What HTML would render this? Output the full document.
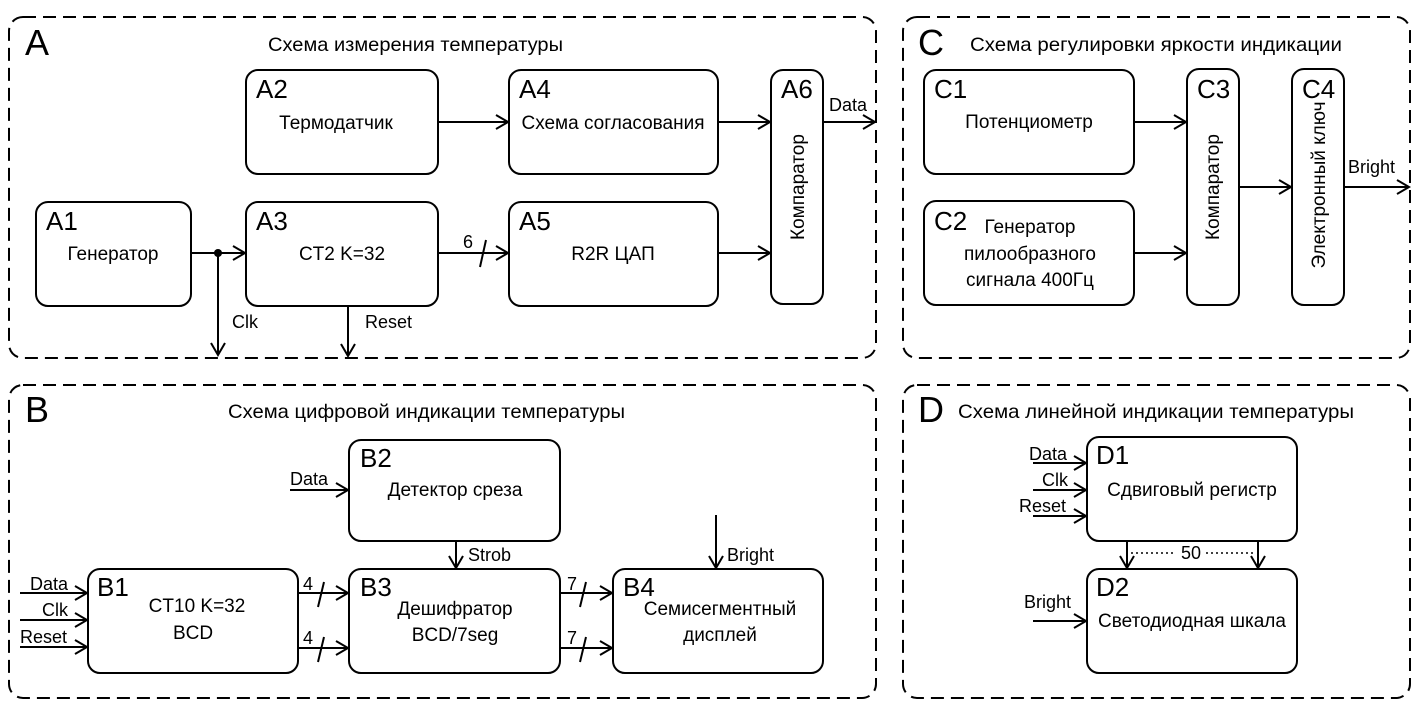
<!DOCTYPE html>
<html><head><meta charset="utf-8"><style>
html,body{margin:0;padding:0;background:#fff}
svg{display:block}
text{font-family:"Liberation Sans","DejaVu Sans",sans-serif;fill:#000}
.t{font-size:19px}
.ti{font-size:19.5px}
.lbl{font-size:26px}
.big{font-size:36px}
.n{font-size:18px}
</style></head><body>
<svg width="1416" height="702" viewBox="0 0 1416 702" xmlns="http://www.w3.org/2000/svg">
<defs>
<marker id="ar" markerWidth="16" markerHeight="16" refX="13" refY="8" orient="auto" markerUnits="userSpaceOnUse">
<polyline points="1,1 13,8 1,15" fill="none" stroke="#000" stroke-width="2"/>
</marker>
</defs>
<g fill="none" stroke="#000" stroke-width="2" stroke-dasharray="13 7">
<rect x="9" y="17" width="867" height="341" rx="14"/>
<rect x="903" y="17" width="507" height="341" rx="14"/>
<rect x="9" y="385" width="867" height="313" rx="14"/>
<rect x="903" y="385" width="507" height="313" rx="14"/>
</g>
<g fill="#fff" stroke="#000" stroke-width="2">
<rect x="246" y="70" width="192" height="104" rx="12"/>
<rect x="509" y="70" width="209" height="104" rx="12"/>
<rect x="36" y="202" width="155" height="104" rx="12"/>
<rect x="246" y="202" width="192" height="104" rx="12"/>
<rect x="509" y="202" width="209" height="104" rx="12"/>
<rect x="771" y="70" width="52" height="234" rx="12"/>
<rect x="924" y="70" width="210" height="104" rx="12"/>
<rect x="924" y="201" width="210" height="104" rx="12"/>
<rect x="1187" y="69" width="52" height="236" rx="12"/>
<rect x="1292" y="69" width="52" height="236" rx="12"/>
<rect x="349" y="440" width="211" height="101" rx="12"/>
<rect x="88" y="569" width="210" height="104" rx="12"/>
<rect x="349" y="569" width="211" height="104" rx="12"/>
<rect x="613" y="569" width="210" height="104" rx="12"/>
<rect x="1087" y="437" width="210" height="104" rx="12"/>
<rect x="1087" y="569" width="210" height="104" rx="12"/>
</g>
<g stroke="#000" stroke-width="2" fill="none" marker-end="url(#ar)">
<line x1="438" y1="122" x2="508" y2="122"/>
<line x1="718" y1="122" x2="770" y2="122"/>
<line x1="823" y1="122" x2="875" y2="122"/>
<line x1="191" y1="253" x2="245" y2="253"/>
<line x1="438" y1="253" x2="508" y2="253"/>
<line x1="718" y1="253" x2="770" y2="253"/>
<line x1="218" y1="253" x2="218" y2="355"/>
<line x1="348" y1="306" x2="348" y2="356"/>
<line x1="1134" y1="122" x2="1186" y2="122"/>
<line x1="1134" y1="253" x2="1186" y2="253"/>
<line x1="1239" y1="187" x2="1291" y2="187"/>
<line x1="1344" y1="187" x2="1409" y2="187"/>
<line x1="290" y1="490" x2="348" y2="490"/>
<line x1="456" y1="541" x2="456" y2="568"/>
<line x1="716" y1="515" x2="716" y2="568"/>
<line x1="20" y1="593" x2="87" y2="593"/>
<line x1="20" y1="620" x2="87" y2="620"/>
<line x1="20" y1="647" x2="87" y2="647"/>
<line x1="298" y1="593" x2="348" y2="593"/>
<line x1="298" y1="648" x2="348" y2="648"/>
<line x1="560" y1="593" x2="612" y2="593"/>
<line x1="560" y1="648" x2="612" y2="648"/>
<line x1="1033" y1="463" x2="1086" y2="463"/>
<line x1="1033" y1="490" x2="1086" y2="490"/>
<line x1="1033" y1="516" x2="1086" y2="516"/>
<line x1="1127" y1="541" x2="1127" y2="568"/>
<line x1="1258" y1="541" x2="1258" y2="568"/>
<line x1="1033" y1="621" x2="1086" y2="621"/>
</g>
<circle cx="218" cy="253" r="4" fill="#000"/>
<g stroke="#000" stroke-width="2">
<line x1="480" y1="267" x2="486" y2="240"/>
<line x1="318" y1="607" x2="324" y2="582"/>
<line x1="318" y1="662" x2="324" y2="637"/>
<line x1="580" y1="607" x2="586" y2="582"/>
<line x1="580" y1="662" x2="586" y2="637"/>
</g>
<line x1="1131" y1="553" x2="1254" y2="553" stroke="#000" stroke-width="1.5" stroke-dasharray="2 3"/>
<rect x="1176" y="543" width="30" height="20" fill="#fff"/>
<text class="big" x="25" y="55">A</text>
<text class="big" x="918" y="55">C</text>
<text class="big" x="25" y="422">B</text>
<text class="big" x="918" y="422">D</text>
<text class="ti" x="268" y="51" textLength="295" lengthAdjust="spacingAndGlyphs">Схема измерения температуры</text>
<text class="ti" x="970" y="51" textLength="372" lengthAdjust="spacingAndGlyphs">Схема регулировки яркости индикации</text>
<text class="ti" x="228" y="418" textLength="397" lengthAdjust="spacingAndGlyphs">Схема цифровой индикации температуры</text>
<text class="ti" x="958" y="418" textLength="396" lengthAdjust="spacingAndGlyphs">Схема линейной индикации температуры</text>
<g>
<text class="lbl" x="256" y="98">A2</text>
<text class="lbl" x="519" y="98">A4</text>
<text class="lbl" x="46" y="230">A1</text>
<text class="lbl" x="256" y="230">A3</text>
<text class="lbl" x="519" y="230">A5</text>
<text class="lbl" x="781" y="98">A6</text>
<text class="lbl" x="934" y="98">C1</text>
<text class="lbl" x="934" y="230">C2</text>
<text class="lbl" x="1197" y="98">C3</text>
<text class="lbl" x="1302" y="98">C4</text>
<text class="lbl" x="360" y="467">B2</text>
<text class="lbl" x="97" y="596">B1</text>
<text class="lbl" x="360" y="596">B3</text>
<text class="lbl" x="623" y="596">B4</text>
<text class="lbl" x="1096" y="464">D1</text>
<text class="lbl" x="1096" y="596">D2</text>
</g>
<g class="t" text-anchor="middle">
<text x="336" y="129">Термодатчик</text>
<text x="613" y="129">Схема согласования</text>
<text x="113" y="260">Генератор</text>
<text x="342" y="260">CT2 K=32</text>
<text x="613" y="260">R2R ЦАП</text>
<text x="1029" y="128">Потенциометр</text>
<text x="1030" y="233">Генератор</text>
<text x="1030" y="260">пилообразного</text>
<text x="1030" y="286">сигнала 400Гц</text>
<text x="455" y="496">Детектор среза</text>
<text x="197" y="612">CT10 K=32</text>
<text x="193" y="639">BCD</text>
<text x="455" y="615">Дешифратор</text>
<text x="455" y="641">BCD/7seg</text>
<text x="720" y="615">Семисегментный</text>
<text x="720" y="641">дисплей</text>
<text x="1192" y="496">Сдвиговый регистр</text>
<text x="1192" y="627">Светодиодная шкала</text>
<text transform="translate(804,187) rotate(-90)">Компаратор</text>
<text transform="translate(1219,187) rotate(-90)">Компаратор</text>
<text transform="translate(1325,185) rotate(-90)">Электронный ключ</text>
</g>
<g class="n">
<text x="829" y="111">Data</text>
<text x="232" y="328">Clk</text>
<text x="365" y="328">Reset</text>
<text x="463" y="248">6</text>
<text x="1348" y="173">Bright</text>
<text x="290" y="485">Data</text>
<text x="468" y="561">Strob</text>
<text x="727" y="561">Bright</text>
<text x="30" y="590">Data</text>
<text x="42" y="616">Clk</text>
<text x="20" y="643">Reset</text>
<text x="303" y="590">4</text>
<text x="303" y="644">4</text>
<text x="567" y="590">7</text>
<text x="567" y="644">7</text>
<text x="1029" y="460">Data</text>
<text x="1042" y="486">Clk</text>
<text x="1019" y="512">Reset</text>
<text x="1191" y="559" text-anchor="middle">50</text>
<text x="1024" y="608">Bright</text>
</g>
</svg>
</body></html>
